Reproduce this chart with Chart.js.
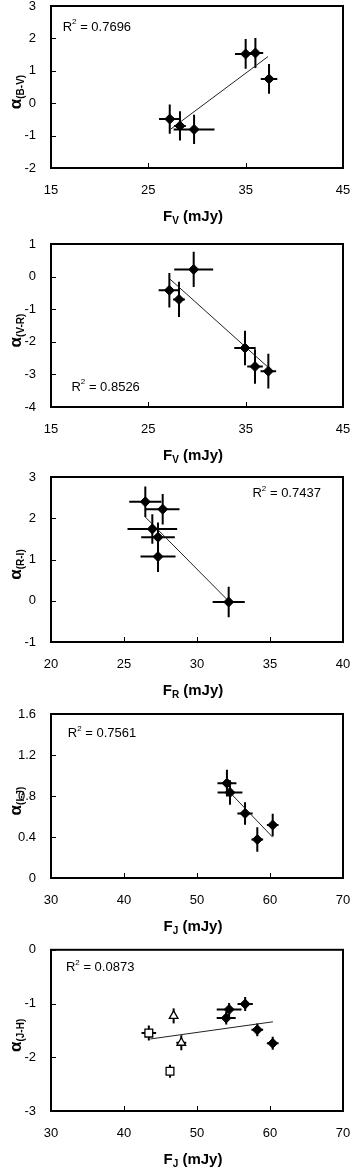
<!DOCTYPE html>
<html>
<head>
<meta charset="utf-8">
<script src="https://cdn.jsdelivr.net/npm/chart.js@4"></script>
<style>
  html, body { margin: 0; padding: 0; background: #fff; overflow: hidden; }
  #wrap { position: relative; width: 351px; height: 1169px; }
  canvas { position: absolute; left: 0; }
</style>
</head>
<body>
<div id="wrap"></div>
<script>
// panel 1 : alpha(B-V) vs F_V
const p1X = [27.2, 28.25, 29.7, 35.0, 36.0, 37.4];
const p1Y = [-0.49, -0.70, -0.81, 1.52, 1.55, 0.75];
const p1XErr = [1.1, 0.6, 2.1, 1.1, 0.8, 0.85];
const p1YErr = [0.45, 0.45, 0.45, 0.46, 0.46, 0.46];
const p1TrendX = [27.3, 37.3];
const p1TrendY = [-0.80, 1.44];

// panel 2 : alpha(V-R) vs F_V
const p2X = [27.16, 28.15, 29.66, 34.93, 35.96, 37.33];
const p2Y = [-0.42, -0.70, 0.22, -2.19, -2.76, -2.90];
const p2XErr = [1.1, 0.6, 2.0, 1.1, 0.8, 0.8];
const p2YErr = [0.53, 0.54, 0.54, 0.53, 0.53, 0.53];
const p2TrendX = [27.2, 37.3];
const p2TrendY = [-0.07, -2.78];

// panel 3 : alpha(R-I) vs F_R
const p3X = [26.46, 27.65, 26.94, 27.33, 27.33, 32.17];
const p3Y = [2.40, 2.22, 1.74, 1.54, 1.07, -0.03];
const p3XErr = [1.1, 1.15, 1.7, 1.15, 1.2, 1.1];
const p3YErr = [0.37, 0.37, 0.36, 0.36, 0.37, 0.37];
const p3TrendX = [26.46, 32.17];
const p3TrendY = [2.03, -0.01];

// panel 4 : alpha(I-J) vs F_J
const p4X = [54.1, 54.52, 56.58, 58.26, 60.37];
const p4Y = [0.925, 0.834, 0.63, 0.375, 0.517];
const p4XErr = [1.3, 1.7, 1.05, 0.8, 0.8];
const p4YErr = [0.13, 0.12, 0.11, 0.12, 0.11];
const p4TrendX = [54.2, 60.37];
const p4TrendY = [0.857, 0.398];

// panel 5 : alpha(J-H) vs F_J (filled, open squares, open triangles)
const p5FilledX = [54.0, 54.4, 56.6, 58.26, 60.37];
const p5FilledY = [-1.27, -1.11, -1.01, -1.49, -1.74];
const p5FilledXErr = [1.3, 1.7, 1.05, 0.8, 0.8];
const p5FilledYErr = [0.12, 0.12, 0.13, 0.12, 0.12];
const p5SquareX = [43.4, 46.3];
const p5SquareY = [-1.55, -2.26];
const p5SquareXErr = [1.0, 0];
const p5SquareYErr = [0.14, 0.12];
const p5TriangleX = [46.8, 47.85];
const p5TriangleY = [-1.23, -1.73];
const p5TriangleXErr = [0, 0.68];
const p5TriangleYErr = [0.14, 0.14];
const p5TrendX = [43.6, 60.4];
const p5TrendY = [-1.66, -1.34];

const r2Labels = ['0.7696', '0.8526', '0.7437', '0.7561', '0.0873'];

const FONT = '"Liberation Sans", Arial, sans-serif';

function pts(xs, ys) {
  return xs.map((x, i) => ({ x: x, y: ys[i] }));
}

const filled = { pointStyle: 'rectRot', pointRadius: 5, backgroundColor: '#000', borderColor: '#000', borderWidth: 1 };
const square = { pointStyle: 'rect', pointRadius: 5.5, backgroundColor: '#fff', borderColor: '#000', borderWidth: 1.3 };
const triangle = { pointStyle: 'triangle', pointRadius: 5, backgroundColor: '#fff', borderColor: '#000', borderWidth: 1.3 };

const panels = [
  {
    plotTop: 5, plotBottom: 168,
    x: [15, 45, 10], y: [-2, 3, 1],
    series: [{ xs: p1X, ys: p1Y, xe: p1XErr, ye: p1YErr, style: filled }],
    trend: [p1TrendX, p1TrendY],
    r2: r2Labels[0], r2At: [16.2, 2.35],
    yMain: 'α', ySub: '(B-V)', xMain: 'F', xSub: 'V'
  },
  {
    plotTop: 243, plotBottom: 407,
    x: [15, 45, 10], y: [-4, 1, 1],
    series: [{ xs: p2X, ys: p2Y, xe: p2XErr, ye: p2YErr, style: filled }],
    trend: [p2TrendX, p2TrendY],
    r2: r2Labels[1], r2At: [17.1, -3.39],
    yMain: 'α', ySub: '(V-R)', xMain: 'F', xSub: 'V'
  },
  {
    plotTop: 476, plotBottom: 642,
    x: [20, 40, 5], y: [-1, 3, 1],
    series: [{ xs: p3X, ys: p3Y, xe: p3XErr, ye: p3YErr, style: filled }],
    trend: [p3TrendX, p3TrendY],
    r2: r2Labels[2], r2At: [33.8, 2.59],
    yMain: 'α', ySub: '(R-I)', xMain: 'F', xSub: 'R'
  },
  {
    plotTop: 713, plotBottom: 878,
    x: [30, 70, 10], y: [0, 1.6, 0.4],
    series: [{ xs: p4X, ys: p4Y, xe: p4XErr, ye: p4YErr, style: filled }],
    trend: [p4TrendX, p4TrendY],
    r2: r2Labels[3], r2At: [32.3, 1.41],
    yMain: 'α', ySub: '(I-J)', xMain: 'F', xSub: 'J'
  },
  {
    plotTop: 948, plotBottom: 1111,
    x: [30, 70, 10], y: [-3, 0, 1],
    series: [
      { xs: p5FilledX, ys: p5FilledY, xe: p5FilledXErr, ye: p5FilledYErr, style: filled },
      { xs: p5SquareX, ys: p5SquareY, xe: p5SquareXErr, ye: p5SquareYErr, style: square },
      { xs: p5TriangleX, ys: p5TriangleY, xe: p5TriangleXErr, ye: p5TriangleYErr, style: triangle }
    ],
    trend: [p5TrendX, p5TrendY],
    r2: r2Labels[4], r2At: [32.05, -0.33],
    yMain: 'α', ySub: '(J-H)', xMain: 'F', xSub: 'J'
  }
];

function makePanel(p) {
  const canvas = document.createElement('canvas');
  const h = p.plotBottom - p.plotTop + 5 + 60;
  canvas.width = 351;
  canvas.height = h;
  canvas.style.top = (p.plotTop - 5) + 'px';
  canvas.style.width = '351px';
  canvas.style.height = h + 'px';
  document.getElementById('wrap').appendChild(canvas);

  const decor = {
    id: 'decor',
    beforeDatasetsDraw(chart) {
      // error bars
      const ctx = chart.ctx, xs = chart.scales.x, ys = chart.scales.y;
      ctx.save();
      ctx.strokeStyle = '#000';
      ctx.lineWidth = 2;
      p.series.forEach(s => {
        s.xs.forEach((xv, i) => {
          const yv = s.ys[i];
          const px = xs.getPixelForValue(xv), py = ys.getPixelForValue(yv);
          ctx.beginPath();
          if (s.xe[i] > 0) {
            ctx.moveTo(xs.getPixelForValue(xv - s.xe[i]), py);
            ctx.lineTo(xs.getPixelForValue(xv + s.xe[i]), py);
          }
          if (s.ye[i] > 0) {
            ctx.moveTo(px, ys.getPixelForValue(yv - s.ye[i]));
            ctx.lineTo(px, ys.getPixelForValue(yv + s.ye[i]));
          }
          ctx.stroke();
        });
      });
      ctx.restore();
    },
    afterDraw(chart) {
      const ctx = chart.ctx, a = chart.chartArea;
      const xs = chart.scales.x, ys = chart.scales.y;
      ctx.save();
      // frame
      ctx.strokeStyle = '#000';
      ctx.lineWidth = 2;
      ctx.strokeRect(a.left, a.top, a.right - a.left, a.bottom - a.top);
      // inside ticks
      ctx.lineWidth = 1;
      ctx.beginPath();
      xs.ticks.forEach(t => {
        const px = Math.round(xs.getPixelForValue(t.value)) + 0.5;
        ctx.moveTo(px, a.bottom);
        ctx.lineTo(px, a.bottom - 5);
      });
      ys.ticks.forEach(t => {
        const py = Math.round(ys.getPixelForValue(t.value)) + 0.5;
        ctx.moveTo(a.left, py);
        ctx.lineTo(a.left + 5, py);
      });
      ctx.stroke();

      // R^2 label
      ctx.fillStyle = '#000';
      ctx.textBaseline = 'middle';
      ctx.textAlign = 'left';
      let rx = xs.getPixelForValue(p.r2At[0]);
      const ry = ys.getPixelForValue(p.r2At[1]);
      ctx.font = '13px ' + FONT;
      ctx.fillText('R', rx, ry);
      rx += ctx.measureText('R').width;
      ctx.font = '8px ' + FONT;
      ctx.fillText('2', rx, ry - 5);
      rx += ctx.measureText('2').width;
      ctx.font = '13px ' + FONT;
      ctx.fillText(' = ' + p.r2, rx, ry);

      // x axis title with subscript
      ctx.textBaseline = 'alphabetic';
      const big = 'bold 15px ' + FONT, small = 'bold 10px ' + FONT;
      ctx.font = big;
      const wMain = ctx.measureText(p.xMain).width;
      const wRest = ctx.measureText(' (mJy)').width;
      ctx.font = small;
      const wSub = ctx.measureText(p.xSub).width;
      let tx = (a.left + a.right) / 2 - 4 - (wMain + wSub + wRest) / 2;
      const tb = a.bottom + 53;
      ctx.font = big;
      ctx.fillText(p.xMain, tx, tb);
      tx += wMain;
      ctx.font = small;
      ctx.fillText(p.xSub, tx, tb + 3);
      tx += wSub;
      ctx.font = big;
      ctx.fillText(' (mJy)', tx, tb);

      // y axis title, rotated
      ctx.translate(21, (a.top + a.bottom) / 2 + 5);
      ctx.rotate(-Math.PI / 2);
      const aFont = 'bold 17px ' + FONT, sFont = 'bold 10px ' + FONT;
      ctx.font = aFont;
      const wa = ctx.measureText(p.yMain).width;
      ctx.font = sFont;
      const ws = ctx.measureText(p.ySub).width;
      let ux = -(wa + ws) / 2;
      ctx.font = aFont;
      ctx.fillText(p.yMain, ux, 0);
      ux += wa;
      ctx.font = sFont;
      ctx.fillText(p.ySub, ux, 3);
      ctx.restore();
    }
  };

  const datasets = p.series.map(s => Object.assign({
    type: 'scatter',
    data: pts(s.xs, s.ys),
    order: 0
  }, s.style));
  datasets.push({
    type: 'line',
    data: pts(p.trend[0], p.trend[1]),
    borderColor: '#222',
    borderWidth: 1,
    pointRadius: 0,
    fill: false,
    order: 1
  });

  new Chart(canvas.getContext('2d'), {
    type: 'scatter',
    data: { datasets: datasets },
    options: {
      responsive: false,
      animation: false,
      layout: { padding: { top: 5, right: 8, left: 0, bottom: 0 } },
      plugins: { legend: { display: false }, tooltip: { enabled: false } },
      scales: {
        x: {
          type: 'linear', min: p.x[0], max: p.x[1],
          ticks: { stepSize: p.x[2], color: '#000', font: { family: FONT, size: 13 }, padding: 15, maxRotation: 0 },
          grid: { display: false, drawTicks: false },
          border: { display: false },
          afterFit: s => { s.height = 60; s.paddingLeft = 0; s.paddingRight = 0; }
        },
        y: {
          type: 'linear', min: p.y[0], max: p.y[1],
          ticks: { stepSize: p.y[2], color: '#000', font: { family: FONT, size: 13 }, padding: 15 },
          grid: { display: false, drawTicks: false },
          border: { display: false },
          afterFit: s => { s.width = 51; s.paddingTop = 0; s.paddingBottom = 0; }
        }
      }
    },
    plugins: [decor]
  });
}

panels.forEach(makePanel);
</script>
</body>
</html>
